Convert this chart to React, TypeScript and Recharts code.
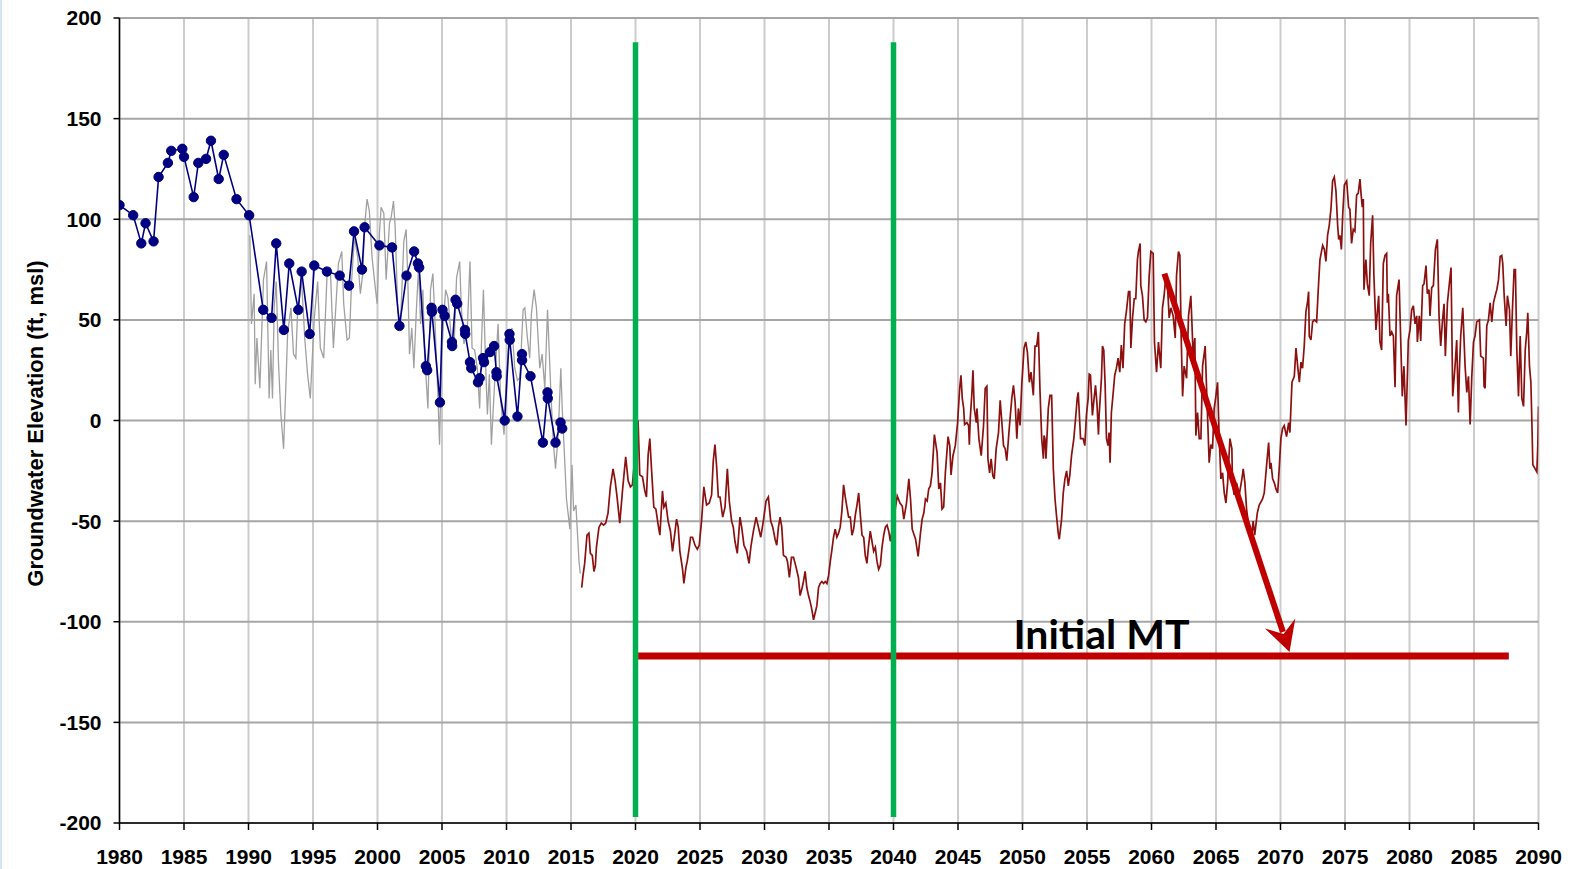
import React from 'react'
import {
    LineChart,
    Line,
    XAxis,
    YAxis,
    CartesianGrid,
    ReferenceLine,
    ReferenceDot,
} from 'recharts'

// year, elevation (ft msl)
const observed: [number, number][] = [
    [1980.0, 107], [1981.06, 102], [1981.69, 88], [1982.02, 98], [1982.64, 89], [1983.03, 121],
    [1983.75, 128], [1984.01, 134], [1984.87, 135], [1985.0, 131], [1985.75, 111], [1986.11, 128],
    [1986.71, 130], [1987.09, 139], [1987.69, 120], [1988.08, 132], [1989.07, 110], [1990.05, 102],
    [1991.14, 55], [1991.79, 51], [1992.15, 88], [1992.74, 45], [1993.16, 78], [1993.86, 55],
    [1994.12, 74], [1994.74, 43], [1995.1, 77], [1996.08, 74], [1997.07, 72], [1997.79, 67],
    [1998.18, 94], [1998.8, 75], [1999.0, 96], [2000.15, 87], [2001.13, 86], [2001.7, 47],
    [2002.25, 72], [2002.84, 84], [2003.13, 78], [2003.23, 76], [2003.75, 27], [2003.85, 25],
    [2004.19, 56], [2004.22, 54], [2004.84, 9], [2005.04, 55], [2005.2, 52], [2005.77, 39],
    [2005.79, 37], [2006.05, 60], [2006.18, 58], [2006.78, 45], [2006.8, 43], [2007.17, 29],
    [2007.27, 26], [2007.79, 19], [2007.92, 21], [2008.18, 31], [2008.26, 29], [2008.72, 34],
    [2009.04, 37], [2009.22, 24], [2009.24, 22], [2009.86, 0], [2010.23, 43], [2010.25, 40],
    [2010.85, 2], [2011.2, 33], [2011.21, 30], [2011.86, 22], [2012.82, -11], [2013.18, 14],
    [2013.2, 11], [2013.8, -11], [2014.19, -1], [2014.32, -4],
]

const simulated: [number, number][] = [
    [1990.1, 92], [1990.23, 48], [1990.44, 63], [1990.52, 18], [1990.65, 41], [1990.88, 16],
    [1991.16, 70], [1991.4, 79], [1991.6, 11], [1991.73, 35], [1991.86, 11], [1991.99, 56],
    [1992.15, 69], [1992.33, 28], [1992.51, 3], [1992.72, -14], [1992.9, 18], [1993.03, 43],
    [1993.29, 56], [1993.49, 33], [1993.67, 31], [1993.8, 53], [1994.11, 70], [1994.37, 40],
    [1994.58, 23], [1994.79, 11], [1995.1, 51], [1995.36, 69], [1995.57, 36], [1995.83, 31],
    [1996.08, 71], [1996.34, 76], [1996.58, 36], [1996.97, 78], [1997.23, 84], [1997.38, 58],
    [1997.64, 40], [1997.82, 41], [1998.0, 70], [1998.21, 91], [1998.47, 81], [1998.67, 63],
    [1998.86, 73], [1998.99, 96], [1999.19, 110], [1999.37, 104], [1999.58, 81], [1999.76, 70],
    [1999.97, 58], [2000.15, 93], [2000.28, 106], [2000.49, 103], [2000.67, 70], [2000.93, 98],
    [2001.06, 101], [2001.24, 109], [2001.37, 96], [2001.57, 55], [2001.78, 48], [2002.04, 89],
    [2002.22, 95], [2002.35, 70], [2002.48, 33], [2002.66, 46], [2002.82, 26], [2003.0, 53],
    [2003.18, 76], [2003.34, 48], [2003.52, 65], [2003.65, 33], [2003.91, 6], [2004.11, 65],
    [2004.29, 73], [2004.42, 55], [2004.55, 33], [2004.68, 13], [2004.81, -12], [2004.94, 26],
    [2005.12, 50], [2005.28, 65], [2005.46, 61], [2005.72, 41], [2005.93, 36], [2006.13, 71],
    [2006.37, 79], [2006.5, 56], [2006.7, 38], [2006.96, 45], [2007.17, 79], [2007.33, 36],
    [2007.53, 35], [2007.74, 26], [2007.92, 6], [2008.05, 36], [2008.21, 65], [2008.39, 26],
    [2008.52, 3], [2008.67, 23], [2008.83, -12], [2009.09, 20], [2009.35, 48], [2009.55, 10],
    [2009.81, -7], [2009.99, 23], [2010.25, 43], [2010.43, 46], [2010.64, 26], [2010.85, 20],
    [2011.03, 21], [2011.29, 55], [2011.42, 56], [2011.62, 41], [2011.8, 31], [2011.93, 53],
    [2012.14, 65], [2012.32, 56], [2012.58, 26], [2012.76, 33], [2012.97, 16], [2013.18, 55],
    [2013.46, 11], [2013.62, -10], [2013.8, -24], [2014.01, -7], [2014.21, 26], [2014.32, 6],
    [2014.47, -14], [2014.65, -39], [2014.91, -54], [2015.08, -22], [2015.2, -45], [2015.38, -42],
    [2015.51, -57], [2015.62, -70], [2015.72, -76],
]

const projected: [number, number][] = [
    [2015.83, -83], [2015.93, -77], [2016.06, -71], [2016.24, -57], [2016.39, -56], [2016.5, -66],
    [2016.65, -67], [2016.78, -75], [2016.89, -72], [2016.97, -63], [2017.17, -53], [2017.35, -51],
    [2017.53, -52], [2017.69, -51], [2017.87, -46], [2018.05, -33], [2018.26, -24], [2018.42, -30],
    [2018.57, -38], [2018.78, -51], [2018.99, -35], [2019.24, -18], [2019.43, -30], [2019.61, -33],
    [2019.76, -32], [2020.2, 0], [2020.33, -27], [2020.54, -28], [2020.72, -35], [2020.85, -38],
    [2020.98, -17], [2021.11, -9], [2021.24, -24], [2021.42, -43], [2021.58, -44], [2021.76, -52],
    [2021.89, -57], [2022.09, -35], [2022.2, -43], [2022.35, -41], [2022.53, -50], [2022.71, -55],
    [2022.87, -65], [2023.05, -56], [2023.18, -49], [2023.31, -53], [2023.44, -65], [2023.65, -74],
    [2023.75, -81], [2023.91, -73], [2024.01, -70], [2024.17, -63], [2024.27, -58], [2024.42, -58],
    [2024.61, -62], [2024.79, -64], [2024.94, -62], [2025.12, -50], [2025.3, -33], [2025.51, -42],
    [2025.72, -41], [2025.9, -37], [2026.03, -20], [2026.16, -12], [2026.29, -23], [2026.42, -38],
    [2026.55, -38], [2026.76, -48], [2026.94, -43], [2027.12, -24], [2027.27, -40], [2027.45, -50],
    [2027.58, -53], [2027.71, -60], [2027.89, -66], [2028.1, -48], [2028.23, -53], [2028.41, -62],
    [2028.62, -65], [2028.8, -71], [2028.96, -62], [2029.14, -55], [2029.35, -48], [2029.53, -53],
    [2029.71, -58], [2029.91, -50], [2030.12, -40], [2030.3, -38], [2030.48, -50], [2030.64, -53],
    [2030.82, -59], [2030.95, -62], [2031.08, -53], [2031.21, -48], [2031.34, -53], [2031.47, -67],
    [2031.68, -68], [2031.78, -70], [2031.93, -78], [2032.09, -68], [2032.25, -68], [2032.45, -73],
    [2032.63, -78], [2032.76, -87], [2032.92, -83], [2033.02, -80], [2033.15, -75], [2033.28, -83],
    [2033.41, -87], [2033.54, -90], [2033.67, -94], [2033.8, -99], [2033.95, -95], [2034.06, -92],
    [2034.19, -83], [2034.32, -81], [2034.45, -80], [2034.58, -81], [2034.71, -80], [2034.84, -81],
    [2034.97, -77], [2035.1, -70], [2035.23, -64], [2035.35, -58], [2035.48, -54], [2035.61, -58],
    [2035.74, -56], [2035.87, -53], [2036.0, -45], [2036.13, -32], [2036.26, -38], [2036.39, -43],
    [2036.52, -48], [2036.65, -48], [2036.78, -57], [2036.91, -54], [2037.04, -47], [2037.17, -42],
    [2037.3, -36], [2037.43, -47], [2037.56, -57], [2037.69, -58], [2037.81, -67], [2037.94, -71],
    [2038.07, -62], [2038.2, -55], [2038.33, -60], [2038.46, -65], [2038.59, -63], [2038.72, -70],
    [2038.85, -74], [2038.98, -72], [2039.11, -63], [2039.24, -57], [2039.37, -53], [2039.5, -52],
    [2039.63, -55], [2039.76, -60], [2040.29, -37.5], [2040.5, -41], [2040.68, -42.5], [2040.8, -49],
    [2041.01, -41], [2041.19, -29], [2041.32, -39], [2041.45, -54], [2041.71, -59], [2041.91, -67.5],
    [2042.09, -56], [2042.22, -49], [2042.35, -46], [2042.48, -39], [2042.61, -40], [2042.73, -34],
    [2042.86, -32.5], [2042.99, -26], [2043.17, -7], [2043.38, -16], [2043.51, -34], [2043.64, -31],
    [2043.76, -44], [2043.89, -43], [2044.02, -26], [2044.23, -8], [2044.36, -12.5], [2044.46, -27],
    [2044.61, -17.5], [2044.79, -12.5], [2044.97, -1], [2045.13, 16], [2045.23, 22.5], [2045.33, 11],
    [2045.44, 6], [2045.51, -2], [2045.69, -1], [2045.82, -2.5], [2045.88, -12], [2045.95, 1],
    [2046.08, 14], [2046.16, 25], [2046.26, 6], [2046.42, -1], [2046.47, 6], [2046.62, -9],
    [2046.8, -17.5], [2046.98, -2.5], [2047.11, 16], [2047.24, 17], [2047.32, -19], [2047.45, -26],
    [2047.57, -19], [2047.7, -27.5], [2047.81, -29], [2047.96, -14], [2048.14, -6], [2048.27, 10],
    [2048.4, -1], [2048.53, -12.5], [2048.66, -14], [2048.78, -20], [2048.99, -2.5], [2049.17, 11],
    [2049.3, 17.5], [2049.43, 9], [2049.56, -9], [2049.68, 6], [2049.81, -2.5], [2049.94, 17.5],
    [2050.12, 36], [2050.25, 39], [2050.38, 34], [2050.53, 19], [2050.66, 24], [2050.84, 12.5],
    [2050.97, 37], [2051.1, 37], [2051.23, 44], [2051.36, 14], [2051.49, -9], [2051.62, -19],
    [2051.67, -7.5], [2051.74, -9], [2051.82, -19], [2052.0, 6], [2052.13, 12.5], [2052.26, 12.5],
    [2052.39, -24], [2052.52, -39], [2052.64, -47.5], [2052.77, -56], [2052.85, -59], [2053.03, -49],
    [2053.16, -36], [2053.29, -29], [2053.42, -25], [2053.55, -32.5], [2053.67, -27], [2053.8, -17.5],
    [2053.98, -9], [2054.14, 3], [2054.24, 11], [2054.32, 14], [2054.4, 4], [2054.5, -9],
    [2054.7, -9], [2054.83, -12.5], [2054.96, 3], [2055.09, 11], [2055.17, 23], [2055.27, 22.5],
    [2055.42, 2.5], [2055.55, 11], [2055.66, 17.5], [2055.78, 7.5], [2055.89, -7], [2055.94, 2.5],
    [2056.12, 21], [2056.2, 37], [2056.3, 35], [2056.4, 19], [2056.51, -9], [2056.63, -12.5],
    [2056.71, -6], [2056.79, -21], [2056.89, 4], [2057.02, 13], [2057.15, 22.5], [2057.28, 26],
    [2057.41, 31], [2057.54, 24], [2057.66, 37.5], [2057.79, 26], [2057.92, 48], [2058.05, 54],
    [2058.22, 64], [2058.32, 64], [2058.4, 36], [2058.53, 51], [2058.66, 60.5], [2058.78, 60.5],
    [2058.91, 80], [2058.99, 84], [2059.12, 88], [2059.17, 67], [2059.3, 62], [2059.43, 50],
    [2059.56, 49], [2059.69, 51], [2059.82, 72], [2059.95, 84], [2060.13, 83], [2060.23, 39],
    [2060.39, 24], [2060.54, 39], [2060.72, 26], [2060.85, 56], [2060.98, 62], [2061.11, 72],
    [2061.24, 67], [2061.37, 51], [2061.5, 56], [2061.68, 52], [2061.84, 41], [2061.94, 72],
    [2062.09, 84], [2062.2, 82], [2062.3, 42], [2062.41, 12], [2062.53, 27], [2062.72, 21],
    [2062.87, 52], [2063.05, 62], [2063.13, 49], [2063.23, 32], [2063.36, 41], [2063.44, -7.5],
    [2063.57, 4], [2063.7, -9], [2063.83, -9], [2063.96, 27], [2064.16, 37], [2064.27, 16],
    [2064.47, -21], [2064.6, -12], [2064.73, -14], [2064.86, 6], [2064.99, 12], [2065.12, 19],
    [2065.25, -9], [2065.38, -29], [2065.51, -26], [2065.64, -36], [2065.77, -41], [2065.9, -31],
    [2066.08, -9], [2066.23, -14], [2066.28, -32], [2066.41, -37], [2066.59, -31], [2066.8, -37],
    [2067.01, -29], [2067.11, -24], [2067.24, -31], [2067.37, -44], [2067.53, -52], [2067.72, -60],
    [2067.88, -50], [2068.0, -57], [2068.2, -46], [2068.35, -42], [2068.61, -39], [2068.74, -36],
    [2068.87, -26], [2069.08, -11], [2069.18, -24], [2069.26, -21], [2069.39, -29], [2069.52, -31],
    [2069.65, -34], [2069.78, -36], [2069.9, -24], [2070.03, -9], [2070.16, -4], [2070.29, -2.5],
    [2070.47, -8], [2070.63, -1], [2070.73, -6], [2070.89, 19], [2071.07, 22], [2071.2, 36],
    [2071.33, 27], [2071.46, 19], [2071.59, 29], [2071.71, 26], [2071.84, 37], [2071.97, 54],
    [2072.1, 59], [2072.18, 64], [2072.23, 42], [2072.36, 40], [2072.49, 49], [2072.62, 50],
    [2072.8, 49], [2072.96, 69], [2073.06, 80], [2073.27, 87], [2073.4, 85], [2073.52, 79],
    [2073.65, 92], [2073.78, 97], [2073.91, 105], [2074.04, 119], [2074.17, 121], [2074.3, 114],
    [2074.43, 97], [2074.51, 90], [2074.61, 92], [2074.72, 85], [2074.82, 102], [2074.95, 117],
    [2075.13, 119], [2075.28, 106], [2075.38, 105], [2075.51, 88], [2075.64, 95], [2075.77, 94],
    [2075.9, 112], [2076.03, 113], [2076.16, 120], [2076.24, 113], [2076.34, 106], [2076.42, 110],
    [2076.47, 65], [2076.55, 73], [2076.62, 80], [2076.73, 68], [2076.88, 62], [2076.99, 88],
    [2077.14, 102], [2077.24, 72], [2077.4, 45], [2077.61, 62], [2077.71, 39], [2077.84, 35],
    [2077.97, 78], [2078.1, 82], [2078.23, 83], [2078.28, 58.5], [2078.36, 63], [2078.49, 42],
    [2078.62, 44], [2078.75, 42], [2078.88, 16.5], [2079.0, 62], [2079.19, 70], [2079.31, 42],
    [2079.44, 12], [2079.57, 27], [2079.73, -2.5], [2079.91, 40], [2080.04, 45], [2080.17, 55],
    [2080.3, 57], [2080.43, 48], [2080.56, 52], [2080.61, 39], [2080.76, 52], [2080.87, 39.5],
    [2081.02, 67], [2081.13, 68], [2081.28, 77], [2081.38, 63], [2081.51, 65], [2081.59, 52],
    [2081.72, 66], [2081.85, 67], [2082.01, 85], [2082.16, 90], [2082.29, 52], [2082.42, 37],
    [2082.55, 49], [2082.68, 58], [2082.78, 32], [2082.94, 58.5], [2083.09, 68], [2083.22, 76],
    [2083.35, 12], [2083.53, 27], [2083.66, 40], [2083.79, 4], [2083.87, 25.5], [2083.97, 42],
    [2084.13, 56], [2084.31, 27], [2084.44, 14], [2084.57, 22], [2084.7, -2], [2084.83, 22],
    [2084.96, 39], [2085.08, 42], [2085.21, 49], [2085.42, 50], [2085.52, 32], [2085.73, 31],
    [2085.78, 17], [2085.86, 16], [2085.99, 47], [2086.12, 50], [2086.25, 58.5], [2086.38, 49],
    [2086.51, 58.5], [2086.64, 62], [2086.77, 65], [2086.9, 70], [2087.03, 81.5], [2087.15, 82],
    [2087.23, 78], [2087.34, 62], [2087.49, 47], [2087.59, 62], [2087.75, 55], [2087.85, 32],
    [2087.98, 55], [2088.11, 75], [2088.21, 75], [2088.32, 35], [2088.45, 12], [2088.58, 42],
    [2088.71, 11], [2088.84, 7], [2088.97, 35], [2089.09, 44], [2089.17, 53.5], [2089.3, 27],
    [2089.41, 19], [2089.48, 1], [2089.56, -22], [2089.74, -24], [2089.87, -25.5], [2089.95, -12],
    [2090.0, 7],
]

const xTicks = [1980, 1985, 1990, 1995, 2000, 2005, 2010, 2015, 2020, 2025, 2030, 2035, 2040, 2045, 2050, 2055, 2060, 2065, 2070, 2075, 2080, 2085, 2090]
const yTicks = [-200, -150, -100, -50, 0, 50, 100, 150, 200]

// annotations (data coordinates)
const markerYears = [2020, 2040]
const markerRange = [188, -197]
const mtLevel = -117
const mtRange = [2020.2, 2087.7]
const arrowFrom = { x: 2061.0, y: 73 }
const arrowTo = { x: 2070.7, y: -115 }
const mtLabel = { x: 2049.3, y: -113.5, text: 'Initial MT' }

const toRows = (pts: [number, number][]) => pts.map(([t, v]) => ({ t, v }))

const AXIS_FONT = '"Liberation Sans", Arial, sans-serif'

function ArrowShape(props: any) {
    const { x1, y1, x2, y2 } = props
    const dx = x2 - x1
    const dy = y2 - y1
    const len = Math.sqrt(dx * dx + dy * dy)
    const ux = dx / len
    const uy = dy / len
    const nx = -uy
    const ny = ux
    const headLen = 30
    const headHalf = 16
    const notch = 19
    const bx = x2 - ux * headLen
    const by = y2 - uy * headLen
    const pts = [
        [x2, y2],
        [bx + nx * headHalf, by + ny * headHalf],
        [x2 - ux * notch, y2 - uy * notch],
        [bx - nx * headHalf, by - ny * headHalf],
    ]
    return (
        <g>
            <line
                x1={x1}
                y1={y1}
                x2={x2 - ux * (notch + 2)}
                y2={y2 - uy * (notch + 2)}
                stroke="#c00000"
                strokeWidth={6}
            />
            <polygon points={pts.map(p => p.join(',')).join(' ')} fill="#c00000" />
        </g>
    )
}

export default function App() {
    return (
        <div style={{ position: 'absolute', left: 0, top: 0, width: 1572, height: 869, background: '#fff' }}>
            <div style={{ position: 'absolute', left: 0, top: 0, width: 2, height: 869, background: '#d6e3f4' }} />
            <LineChart
                width={1572}
                height={869}
                margin={{ top: 18, right: 33.5, bottom: 0, left: 0 }}
            >
                <CartesianGrid horizontal={false} stroke="#cccccc" strokeWidth={2} />
                <CartesianGrid vertical={false} stroke="#a6a6a6" strokeWidth={2} />
                <XAxis
                    type="number"
                    dataKey="t"
                    domain={[1980, 2090]}
                    ticks={xTicks}
                    allowDataOverflow
                    height={46}
                    tickSize={7}
                    tickMargin={19}
                    axisLine={{ stroke: '#000', strokeWidth: 1.5 }}
                    tickLine={{ stroke: '#000', strokeWidth: 1.5 }}
                    tick={{ fill: '#000', fontSize: 21, fontWeight: 700, fontFamily: AXIS_FONT }}
                    interval={0}
                />
                <YAxis
                    type="number"
                    dataKey="v"
                    domain={[-200, 200]}
                    ticks={yTicks}
                    allowDataOverflow
                    width={119.5}
                    tickSize={6}
                    tickMargin={12}
                    axisLine={{ stroke: '#000', strokeWidth: 1.5 }}
                    tickLine={{ stroke: '#000', strokeWidth: 1.5 }}
                    tick={{ fill: '#000', fontSize: 21, fontWeight: 700, fontFamily: AXIS_FONT }}
                    interval={0}
                    label={{
                        content: ({ viewBox }: any) => {
                            const cx = 35
                            const cy = viewBox.y + viewBox.height / 2 + 3
                            return (
                                <text
                                    x={cx}
                                    y={cy}
                                    transform={`rotate(-90, ${cx}, ${cy})`}
                                    textAnchor="middle"
                                    dominantBaseline="central"
                                    fontFamily={AXIS_FONT}
                                    fontWeight={700}
                                    fontSize={22}
                                    fill="#000"
                                >
                                    Groundwater Elevation (ft, msl)
                                </text>
                            )
                        },
                    }}
                />
                <Line
                    data={toRows(simulated)}
                    dataKey="v"
                    type="linear"
                    stroke="#a0a0a0"
                    strokeWidth={1.3}
                    dot={false}
                    activeDot={false}
                    isAnimationActive={false}
                />
                <Line
                    data={toRows(observed)}
                    dataKey="v"
                    type="linear"
                    stroke="#000080"
                    strokeWidth={1.6}
                    dot={{ r: 4.7, fill: '#000080', stroke: '#000080', strokeWidth: 1 }}
                    activeDot={false}
                    isAnimationActive={false}
                />
                <Line
                    data={toRows(projected)}
                    dataKey="v"
                    type="linear"
                    stroke="#8b1010"
                    strokeWidth={1.7}
                    dot={false}
                    activeDot={false}
                    isAnimationActive={false}
                />
                <ReferenceLine
                    segment={[{ x: mtRange[0], y: mtLevel }, { x: mtRange[1], y: mtLevel }]}
                    stroke="#c00000"
                    strokeWidth={7}
                />
                {markerYears.map(yr => (
                    <ReferenceLine
                        key={yr}
                        segment={[{ x: yr, y: markerRange[0] }, { x: yr, y: markerRange[1] }]}
                        stroke="#00b050"
                        strokeWidth={5.5}
                    />
                ))}
                <ReferenceLine
                    segment={[arrowFrom, arrowTo]}
                    shape={(p: any) => <ArrowShape {...p} />}
                />
                <ReferenceDot
                    x={mtLabel.x}
                    y={mtLabel.y}
                    r={0}
                    shape={(p: any) => (
                        <text
                            x={p.cx}
                            y={p.cy}
                            fontFamily='Lato, "Open Sans", sans-serif'
                            fontWeight={700}
                            fontSize={41}
                            fill="#000"
                        >
                            {mtLabel.text}
                        </text>
                    )}
                />
            </LineChart>
        </div>
    )
}
